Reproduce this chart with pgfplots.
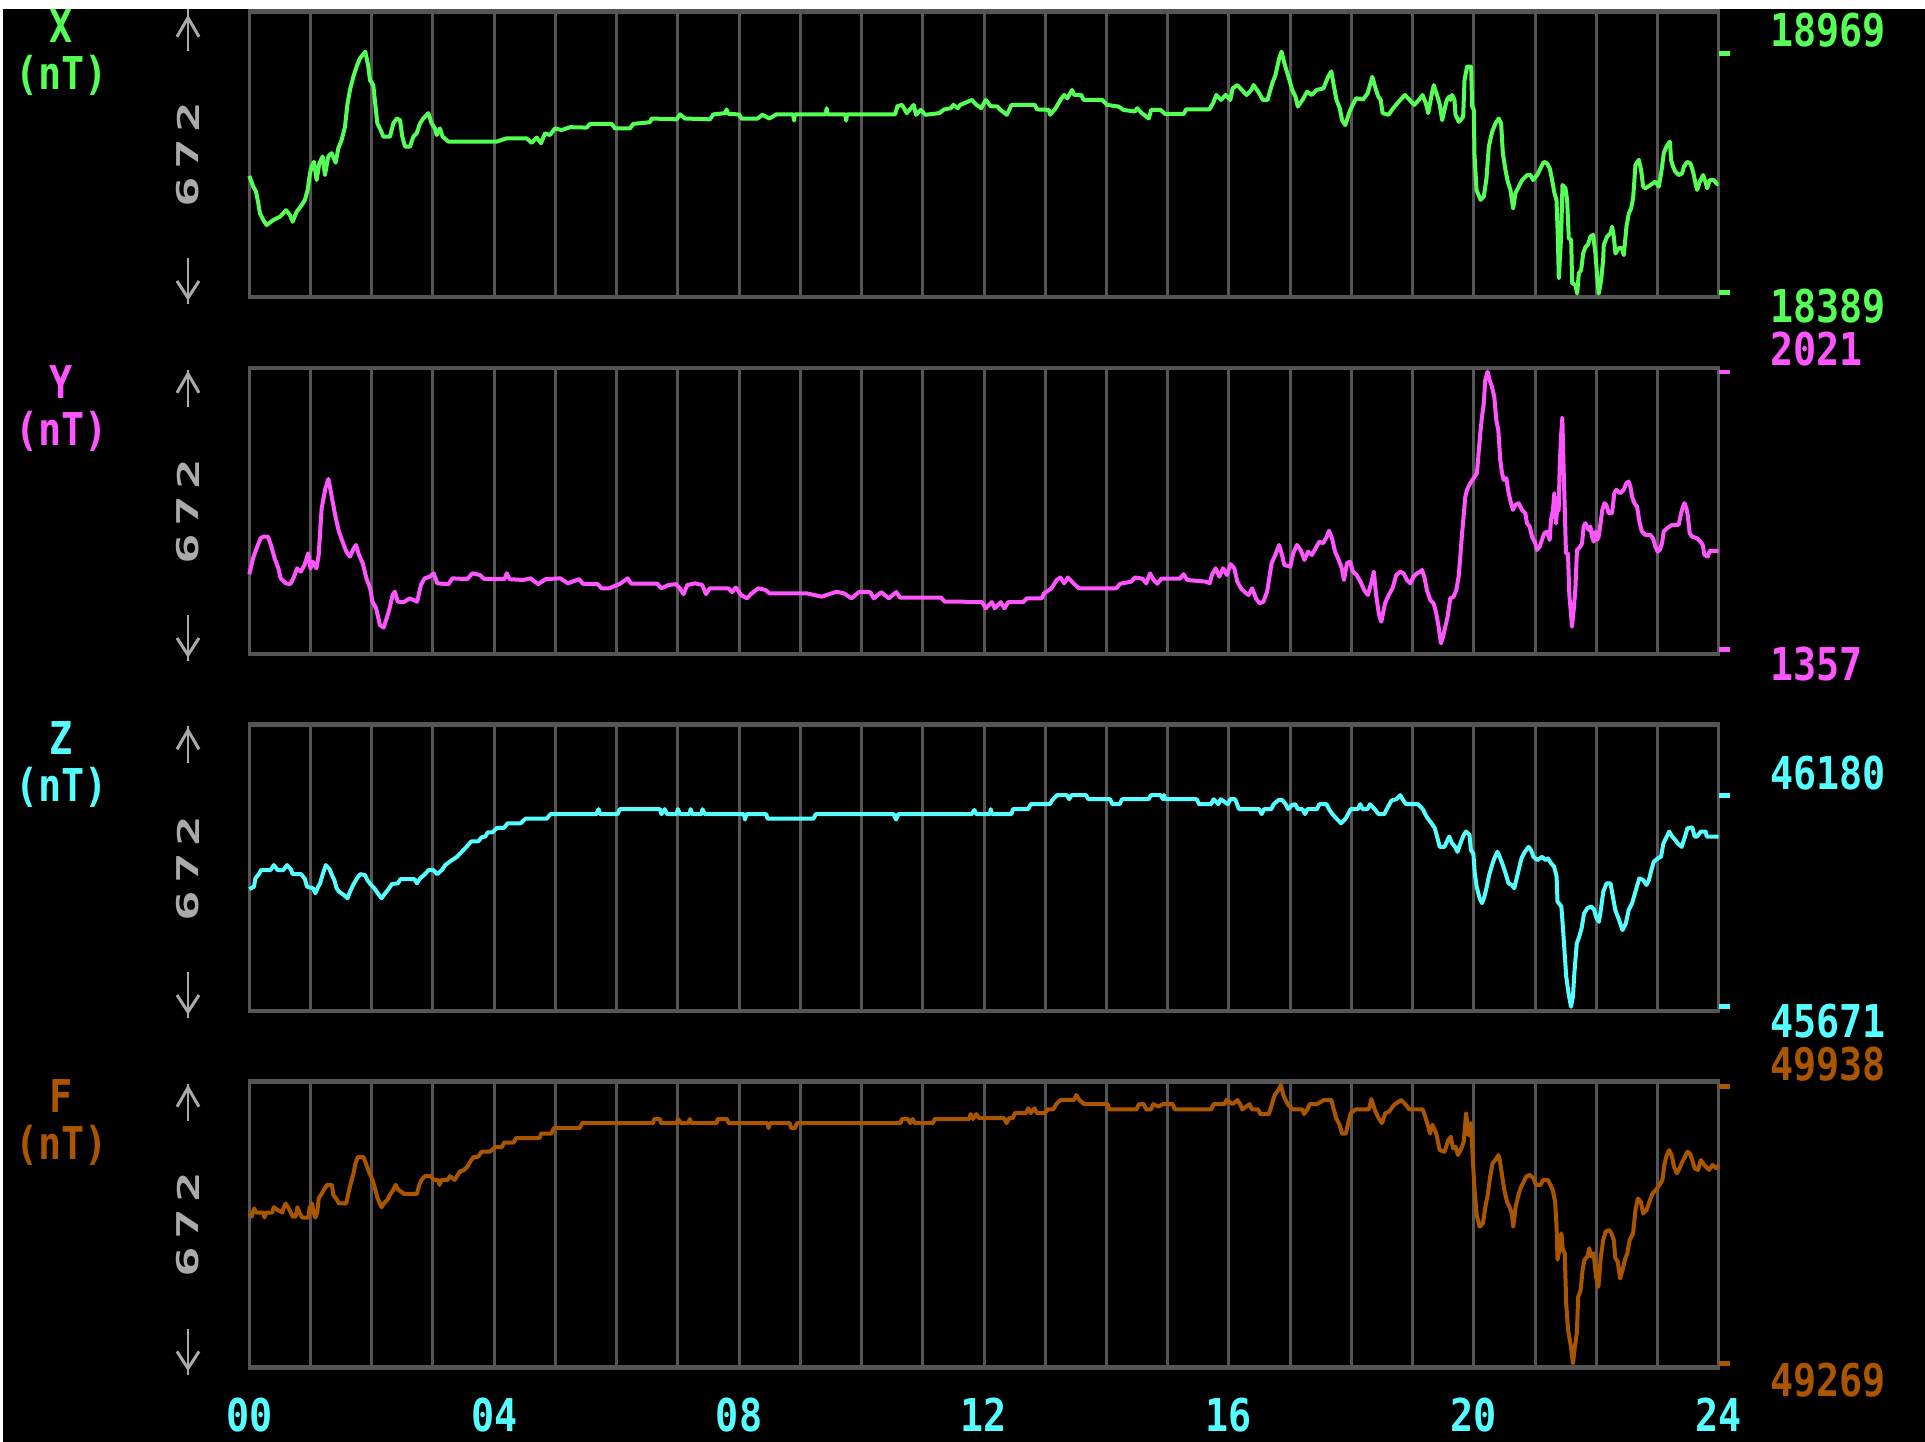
\documentclass[border=0pt]{standalone}
\usepackage{pgfplots}
\pgfplotsset{compat=1.18}
\usepackage{fontspec}
\newfontfamily\pix{DejaVu Sans Mono}[FakeStretch=0.85]
\newcommand\lbl{\pix\bfseries\fontsize{11.3pt}{12pt}\selectfont}
\newcommand\rot[1]{\scalebox{2.0}[1.0]{\pix\bfseries\fontsize{7.5pt}{8pt}\selectfont #1}}

\definecolor{egagreen}{RGB}{85,255,85}
\definecolor{egamagenta}{RGB}{255,85,255}
\definecolor{egacyan}{RGB}{85,255,255}
\definecolor{egabrown}{RGB}{170,85,0}
\definecolor{egadgray}{RGB}{85,85,85}
\definecolor{egalgray}{RGB}{170,170,170}

\pgfplotsset{
  magpanel/.style={
    anchor=north west, scale only axis, width=367.35pt,
    xmin=0, xmax=24, xtick={1,...,23}, xticklabels={}, ytick=\empty,
    major tick length=0pt, xtick style={draw=none},
    xmajorgrids, grid style={egadgray, line width=0.75pt},
    axis line style={draw=none}, clip=false,
    every axis plot/.append style={line width=1pt, line join=round, mark=none},
  },
}
% frame of one panel: thicker horizontal edges, thinner vertical ones
\newcommand\panelframe{%
  \draw[egadgray, line width=0.75pt] (rel axis cs:0,0) -- (rel axis cs:0,1)
       (rel axis cs:1,0) -- (rel axis cs:1,1);
  \draw[egadgray, line width=1.125pt, shorten <=-0.375pt, shorten >=-0.375pt]
       (rel axis cs:0,0) -- (rel axis cs:1,0);
  \draw[egadgray, line width=1.125pt, shorten <=-0.375pt, shorten >=-0.375pt]
       (rel axis cs:0,1) -- (rel axis cs:1,1);
}

\begin{document}
\begin{tikzpicture}[x=1pt,y=1pt]
\useasboundingbox (0,0) rectangle (481.25,-360.5);
\fill[black] (0,0) rectangle (481.25,-360.5);
\fill[white] (0,0) rectangle (481.25,-2.25);
\fill[white] (0,0) rectangle (0.75,-360.5);

% ---------------- X ----------------
\begin{axis}[magpanel, at={(62.325pt,-2.925pt)}, height=71.325pt, ymin=18378.6, ymax=19069.8]
\panelframe
\addplot[egagreen] coordinates {
(0,18672) (0.065,18646) (0.109,18634) (0.147,18606) (0.174,18581) (0.229,18565) (0.283,18553) (0.392,18565)
(0.501,18573) (0.599,18589) (0.664,18577) (0.708,18561) (0.773,18585) (0.855,18601) (0.909,18614) (0.953,18638)
(0.991,18678) (1.018,18694) (1.056,18706) (1.100,18662) (1.143,18702) (1.198,18719) (1.236,18674) (1.290,18719)
(1.345,18727) (1.410,18704) (1.454,18739) (1.508,18759) (1.563,18791) (1.601,18844) (1.644,18880) (1.699,18912)
(1.753,18937) (1.808,18957) (1.895,18973) (1.944,18937) (1.971,18904) (2.025,18892) (2.053,18852) (2.091,18799)
(2.134,18787) (2.189,18767) (2.298,18767) (2.352,18799) (2.407,18811) (2.461,18807) (2.499,18767) (2.543,18743)
(2.624,18743) (2.679,18767) (2.733,18775) (2.788,18799) (2.842,18811) (2.924,18824) (2.978,18799) (3.033,18787)
(3.060,18771) (3.114,18787) (3.158,18767) (3.251,18755) (3.441,18755) (3.659,18755) (4.040,18755) (4.203,18763)
(4.530,18763) (4.612,18752) (4.693,18765) (4.764,18751) (4.829,18775) (4.911,18771) (4.993,18787) (5.102,18783)
(5.238,18790) (5.510,18789) (5.565,18798) (5.918,18798) (5.973,18787) (6.218,18787) (6.272,18798) (6.545,18802)
(6.572,18811) (6.980,18809) (7.035,18821) (7.117,18811) (7.525,18809) (7.579,18821) (7.770,18824) (7.797,18833)
(7.824,18822) (8.0,18821)
(8.038,18811) (8.304,18811) (8.380,18820) (8.494,18811) (8.608,18821) (8.882,18821) (8.897,18806) (8.912,18821)
(9.415,18821) (9.430,18836) (9.445,18821) (9.734,18821) (9.749,18806) (9.764,18821) (10.548,18821) (10.586,18841)
(10.662,18844) (10.738,18824) (10.852,18844) (10.890,18820) (10.966,18832) (11.042,18820) (11.270,18824) (11.346,18833)
(11.460,18836) (11.498,18844) (11.574,18836) (11.612,18844) (11.802,18856) (11.878,18844) (11.954,18836) (12.030,18856)
(12.106,18841) (12.221,18840) (12.259,18833) (12.373,18820) (12.449,18844) (12.829,18844) (12.867,18833) (13.057,18832)
(13.080,18820) (13.171,18836) (13.247,18856) (13.308,18868) (13.361,18860) (13.437,18880) (13.475,18868) (13.589,18868)
(13.627,18856) (13.932,18856) (14.008,18844) (14.198,18840) (14.274,18832) (14.464,18828) (14.502,18836) (14.578,18824)
(14.692,18811) (14.730,18832) (14.882,18832) (14.958,18822) (15.262,18822) (15.300,18833) (15.681,18833) (15.741,18848)
(15.795,18868) (15.871,18856) (15.947,18868) (16.023,18856) (16.061,18884) (16.137,18892) (16.213,18880) (16.289,18868)
(16.365,18880) (16.403,18892) (16.479,18876) (16.555,18856) (16.631,18856) (16.707,18896) (16.760,18916) (16.821,18957)
(16.859,18973) (16.913,18941) (16.973,18912) (17.034,18880) (17.087,18864) (17.125,18840) (17.202,18856) (17.278,18876)
(17.354,18868) (17.430,18880) (17.544,18884) (17.620,18912) (17.673,18925) (17.711,18892) (17.757,18856) (17.810,18836)
(17.848,18807) (17.901,18795) (17.962,18824) (18.008,18840) (18.076,18860) (18.190,18857) (18.266,18872) (18.342,18912)
(18.403,18880) (18.441,18864) (18.479,18856) (18.510,18824) (18.608,18820) (18.684,18836) (18.798,18856) (18.875,18868)
(18.951,18856) (19.027,18844) (19.103,18856) (19.163,18868) (19.217,18848) (19.255,18824) (19.316,18872) (19.346,18892)
(19.407,18864) (19.445,18844) (19.483,18807) (19.521,18832) (19.559,18856) (19.597,18864)
(19.619,18856) (19.646,18868) (19.684,18856) (19.701,18820) (19.755,18803) (19.826,18815) (19.848,18904) (19.891,18937)
(19.956,18937) (19.973,18840) (20.000,18832) (20.011,18723) (20.044,18638) (20.109,18614) (20.163,18622) (20.207,18666)
(20.245,18743) (20.299,18779) (20.354,18799) (20.408,18811) (20.446,18799) (20.474,18727) (20.517,18686) (20.555,18658)
(20.599,18638) (20.642,18593) (20.680,18630) (20.735,18646) (20.789,18662) (20.871,18674) (20.925,18674) (20.969,18662)
(21.034,18674) (21.089,18690) (21.143,18706) (21.198,18702) (21.241,18690) (21.279,18662) (21.317,18630) (21.350,18614)
(21.372,18525) (21.388,18424) (21.426,18525) (21.448,18650) (21.497,18642) (21.524,18614) (21.551,18521) (21.590,18517)
(21.606,18412) (21.660,18408) (21.688,18387) (21.715,18436) (21.753,18444) (21.786,18484) (21.824,18500) (21.862,18505)
(21.905,18525) (21.949,18529) (21.987,18484) (22.014,18428) (22.041,18387) (22.080,18420) (22.112,18468) (22.123,18505)
(22.177,18525) (22.232,18533) (22.259,18549) (22.286,18525) (22.314,18484) (22.368,18497) (22.422,18497) (22.450,18480)
(22.493,18549) (22.531,18581) (22.569,18593) (22.602,18618) (22.640,18698) (22.695,18711) (22.733,18686) (22.765,18646)
(22.803,18642) (22.885,18650) (22.967,18658) (23.021,18646) (23.059,18678) (23.103,18727) (23.146,18743) (23.201,18755)
(23.223,18710) (23.255,18694) (23.293,18682) (23.348,18674) (23.402,18678) (23.430,18694) (23.484,18706) (23.538,18702)
(23.582,18682) (23.620,18654) (23.647,18638) (23.691,18658) (23.745,18674) (23.783,18658) (23.811,18642) (23.854,18662)
(23.919,18662) (23.974,18652) (24.0,18652)
};
\draw[egagreen, line width=1.125pt] (axis cs:24,18969) -- ++(2.75pt,0pt);
\draw[egagreen, line width=1.125pt] (axis cs:24,18389) -- ++(2.75pt,0pt);
\end{axis}

% ---------------- Y ----------------
\begin{axis}[magpanel, at={(62.325pt,-91.95pt)}, height=71.55pt, ymin=1345.7, ymax=2031.5]
\panelframe
\addplot[egamagenta] coordinates {
(0,1537) (0.061,1575) (0.110,1595) (0.183,1623) (0.232,1627) (0.305,1627) (0.353,1607) (0.414,1575)
(0.475,1551) (0.512,1527) (0.597,1515) (0.670,1513) (0.731,1531) (0.780,1551) (0.841,1543) (0.902,1559)
(0.963,1587) (0.999,1551) (1.036,1567) (1.097,1551) (1.133,1583) (1.182,1695) (1.243,1743) (1.292,1765)
(1.341,1727) (1.402,1679) (1.463,1639) (1.523,1615) (1.584,1591) (1.645,1579) (1.706,1599) (1.743,1607)
(1.792,1583) (1.853,1563) (1.913,1527) (1.974,1503) (2.011,1471) (2.072,1455) (2.133,1415) (2.194,1409)
(2.243,1431) (2.291,1455) (2.340,1487) (2.377,1495) (2.425,1471) (2.523,1470) (2.620,1479) (2.742,1471)
(2.803,1511) (2.864,1527) (2.949,1531) (3.010,1539) (3.071,1515) (3.254,1513) (3.315,1527) (3.559,1525)
(3.644,1539) (3.766,1535) (3.839,1525) (4.168,1525) (4.205,1539) (4.253,1525) (4.473,1523) (4.595,1527)
(4.717,1513) (4.839,1525) (5.082,1527) (5.204,1515) (5.387,1525) (5.448,1514) (5.692,1513) (5.753,1503)
(5.874,1503) (6.057,1514) (6.179,1527) (6.240,1514) (6.667,1514) (6.728,1503) (6.850,1511) (6.971,1513)
(7.032,1503) (7.093,1489) (7.154,1511) (7.276,1515) (7.398,1511) (7.459,1489) (7.520,1503) (7.824,1503)
(7.885,1494) (7.946,1505) (8.032,1487) (8.129,1479) (8.190,1489) (8.312,1503) (8.434,1499) (8.495,1491)
(9.104,1491) (9.348,1483) (9.592,1495) (9.714,1491) (9.835,1479) (9.957,1494) (10.140,1494) (10.201,1479)
(10.323,1494) (10.445,1479) (10.567,1494) (10.628,1481) (11.298,1481) (11.359,1471) (11.664,1471) (11.724,1470)
(11.968,1470) (12.029,1455) (12.127,1470) (12.176,1455) (12.273,1470) (12.334,1455) (12.395,1470) (12.639,1470)
(12.700,1479) (12.943,1479) (12.980,1491) (13.102,1503) (13.187,1523) (13.248,1529) (13.309,1515) (13.370,1529)
(13.467,1514) (13.553,1503) (14.162,1503) (14.223,1514) (14.406,1519) (14.467,1529) (14.589,1526) (14.650,1515)
(14.711,1539) (14.772,1523) (14.832,1514) (14.893,1526) (15.198,1526) (15.259,1537) (15.320,1523) (15.625,1519)
(15.686,1515) (15.722,1535) (15.783,1551) (15.844,1531) (15.905,1551) (15.966,1535) (16.027,1561) (16.088,1551)
(16.137,1519) (16.197,1503) (16.258,1494) (16.319,1487) (16.380,1503) (16.441,1479) (16.502,1467) (16.563,1471)
(16.624,1495) (16.697,1563) (16.758,1583) (16.819,1607) (16.868,1583) (16.904,1559) (17.002,1555) (17.050,1587)
(17.111,1607) (17.172,1595) (17.233,1571) (17.294,1591) (17.355,1583) (17.416,1599) (17.477,1615) (17.538,1611)
(17.599,1627) (17.635,1641) (17.684,1623) (17.733,1591) (17.782,1575) (17.843,1551) (17.879,1523) (17.928,1563)
(17.977,1567) (18.026,1543) (18.087,1535) (18.148,1519) (18.208,1499) (18.269,1487) (18.330,1519) (18.367,1543)
(18.404,1487) (18.452,1439) (18.489,1423) (18.550,1467) (18.611,1487) (18.672,1503) (18.733,1535)
(18.798,1543) (18.853,1539) (18.907,1523) (18.962,1515) (19.016,1531) (19.071,1539) (19.125,1543) (19.153,1547)
(19.191,1531) (19.234,1499) (19.289,1475) (19.343,1467) (19.387,1443) (19.425,1411) (19.463,1371) (19.496,1387)
(19.534,1411) (19.572,1435) (19.615,1479) (19.670,1483) (19.714,1499) (19.752,1531) (19.779,1579) (19.806,1631)
(19.833,1675) (19.861,1723) (19.888,1739) (19.942,1755) (19.997,1767) (20.051,1779) (20.078,1827) (20.106,1875)
(20.133,1914) (20.160,1942) (20.187,2002) (20.225,2022) (20.258,2002) (20.296,1986) (20.334,1962) (20.367,1906)
(20.400,1882) (20.432,1811) (20.460,1779) (20.487,1763) (20.530,1767) (20.569,1731) (20.607,1707) (20.639,1691)
(20.678,1703) (20.732,1707) (20.786,1691) (20.841,1683) (20.868,1659) (20.912,1651) (20.950,1627) (21.004,1611)
(21.032,1595) (21.075,1603) (21.113,1619) (21.151,1635) (21.195,1639) (21.239,1619) (21.260,1667) (21.293,1691)
(21.315,1731) (21.342,1659) (21.358,1687) (21.386,1691) (21.402,1791) (21.424,1867) (21.446,1912) (21.467,1787)
(21.489,1675) (21.505,1587) (21.538,1587) (21.560,1487) (21.587,1443) (21.603,1411) (21.631,1451) (21.658,1499)
(21.685,1595) (21.712,1599) (21.740,1603) (21.767,1611) (21.794,1651) (21.821,1659) (21.849,1651) (21.876,1643)
(21.903,1651) (21.930,1627) (21.958,1615) (21.985,1639) (22.012,1619) (22.039,1627) (22.066,1655) (22.099,1691)
(22.132,1707) (22.164,1703) (22.203,1683) (22.257,1683) (22.295,1731) (22.328,1739) (22.393,1731) (22.448,1739)
(22.491,1755) (22.529,1759) (22.557,1747) (22.584,1723) (22.622,1707) (22.666,1699) (22.709,1659) (22.747,1639)
(22.802,1631) (22.883,1631) (22.927,1623) (22.965,1603) (23.003,1591) (23.036,1595) (23.074,1611) (23.101,1639)
(23.155,1647) (23.237,1655) (23.346,1655) (23.385,1683) (23.417,1699) (23.439,1707) (23.472,1695) (23.493,1679)
(23.526,1635) (23.564,1627) (23.646,1623) (23.700,1615) (23.739,1607) (23.766,1583) (23.820,1579) (23.853,1593)
(24.0,1593)
};
\draw[egamagenta, line width=1.125pt] (axis cs:24,2021) -- ++(2.75pt,0pt);
\draw[egamagenta, line width=1.125pt] (axis cs:24,1357) -- ++(2.75pt,0pt);
\end{axis}

% ---------------- Z ----------------
\begin{axis}[magpanel, at={(62.325pt,-181.075pt)}, height=71.675pt, ymin=45659.7, ymax=46351.9]
\panelframe
\addplot[egacyan] coordinates {
(0,45954) (0.077,45960) (0.100,45980) (0.154,45990) (0.193,46000) (0.347,46000) (0.401,46012) (0.463,46000)
(0.555,46000) (0.617,46012) (0.678,46002) (0.709,45990) (0.848,45990) (0.910,45978) (0.941,45960) (1.041,45956)
(1.079,45944) (1.126,45960) (1.157,45968) (1.195,45988) (1.249,46012) (1.311,46002) (1.349,45988) (1.388,45976)
(1.426,45956) (1.465,45948) (1.542,45940) (1.604,45932) (1.658,45952) (1.696,45964) (1.758,45980) (1.812,45990)
(1.889,45988) (1.928,45976) (1.989,45964) (2.043,45956) (2.097,45944) (2.159,45932) (2.220,45944) (2.274,45954)
(2.328,45966) (2.429,45968) (2.467,45978) (2.699,45978) (2.737,45968) (2.791,45980) (2.853,45988) (2.930,46000)
(3.007,46000) (3.069,45990) (3.146,46000) (3.200,46012) (3.300,46023) (3.392,46032) (3.470,46044) (3.547,46056)
(3.624,46069) (3.739,46069) (3.793,46079) (3.855,46081) (3.894,46091) (3.971,46091) (4.048,46102) (4.163,46102)
(4.217,46113) (4.433,46113) (4.510,46124) (4.857,46124) (4.919,46135) (5.667,46135) (5.705,46147) (5.729,46135)
(6.014,46135) (6.052,46147) (6.708,46147) (6.731,46135) (6.785,46147) (6.823,46135) (6.978,46135) (7.001,46147)
(7.032,46135) (7.186,46135) (7.209,46147) (7.232,46135) (7.386,46135) (7.402,46147) (7.440,46135) (8.080,46135)
(8.096,46122) (8.119,46135) (8.443,46135) (8.466,46124) (9.214,46124) (9.252,46135) (10.524,46135) (10.563,46122)
(10.601,46135) (11.796,46135)
(11.843,46145) (11.874,46135) (12.094,46135) (12.110,46147) (12.134,46135) (12.448,46135) (12.472,46147) (12.723,46147)
(12.762,46159) (13.077,46159) (13.116,46169) (13.194,46181) (13.352,46181) (13.391,46171) (13.430,46181) (13.666,46181)
(13.705,46171) (14.059,46171) (14.098,46159) (14.216,46159) (14.255,46171) (14.688,46171) (14.727,46181) (14.884,46181)
(14.923,46171) (14.939,46181) (14.963,46171) (15.473,46171) (15.513,46159) (15.709,46159) (15.749,46171) (15.827,46159)
(15.866,46171) (15.984,46159) (16.024,46171) (16.102,46171) (16.165,46147) (16.495,46147) (16.535,46135) (16.574,46147)
(16.692,46147) (16.731,46159) (16.809,46169) (16.872,46169) (16.927,46159) (16.967,46147) (17.029,46157) (17.084,46159)
(17.124,46147) (17.202,46147) (17.242,46135) (17.281,46147) (17.438,46147) (17.477,46159) (17.595,46159) (17.635,46147)
(17.690,46135) (17.752,46125) (17.831,46113) (17.910,46125) (17.988,46147) (18.106,46147) (18.145,46159) (18.185,46147)
(18.263,46147) (18.303,46159) (18.381,46147) (18.444,46135) (18.538,46135) (18.578,46147) (18.656,46168) (18.735,46171)
(18.798,46181) (18.837,46171) (18.892,46159) (19.088,46159) (19.167,46147) (19.206,46135) (19.246,46125) (19.308,46113)
(19.363,46101) (19.403,46079) (19.442,46056) (19.521,46056) (19.560,46069) (19.599,46081) (19.639,46066) (19.694,46056)
(19.733,46044) (19.780,46064) (19.835,46085) (19.874,46093) (19.929,46085) (19.953,46048) (19.992,46040) (20.016,45992)
(20.047,45960) (20.094,45932) (20.134,45920) (20.173,45936) (20.212,45960) (20.251,45988) (20.306,46016) (20.346,46032)
(20.385,46044) (20.424,46032) (20.464,46016) (20.519,45992) (20.566,45968) (20.621,45964) (20.660,45956) (20.700,45980)
(20.739,46004) (20.778,46028) (20.833,46044) (20.896,46056) (20.935,46048) (20.974,46032) (21.037,46024) (21.116,46032)
(21.171,46024) (21.210,46028) (21.265,46016) (21.312,46008) (21.352,45984) (21.367,45924) (21.430,45912) (21.462,45847)
(21.509,45743) (21.548,45702) (21.587,45670) (21.619,45694) (21.642,45751) (21.682,45823) (21.721,45839) (21.760,45859)
(21.800,45895) (21.855,45908) (21.918,45912) (21.965,45904) (21.996,45887) (22.043,45875) (22.075,45904) (22.114,45948)
(22.169,45968) (22.232,45968) (22.271,45936) (22.310,45904) (22.373,45879) (22.428,45855) (22.483,45871) (22.530,45904)
(22.585,45920) (22.640,45948) (22.703,45980) (22.766,45976) (22.821,45964) (22.860,45976) (22.900,46000) (22.939,46020)
(23.002,46028) (23.057,46032) (23.096,46064) (23.151,46081) (23.191,46093) (23.238,46081) (23.293,46072) (23.332,46064)
(23.395,46056) (23.450,46081) (23.489,46101) (23.568,46103) (23.607,46081) (23.646,46081) (23.709,46093) (23.788,46093)
(23.804,46081) (24.0,46081)
};
\draw[egacyan, line width=1.125pt] (axis cs:24,46180) -- ++(2.75pt,0pt);
\draw[egacyan, line width=1.125pt] (axis cs:24,45671) -- ++(2.75pt,0pt);
\end{axis}

% ---------------- F ----------------
\begin{axis}[magpanel, at={(62.325pt,-270.425pt)}, height=71.45pt, ymin=49258.9, ymax=49949.1]
\panelframe
\addplot[egabrown] coordinates {
(0,49631) (0.039,49623) (0.077,49643) (0.116,49633) (0.231,49633) (0.247,49621) (0.270,49633) (0.370,49633)
(0.401,49646) (0.463,49639) (0.540,49633) (0.563,49646) (0.594,49655) (0.632,49646) (0.678,49633) (0.709,49623)
(0.756,49623) (0.786,49646) (0.817,49633) (0.864,49621) (0.964,49621) (0.987,49646) (1.025,49655) (1.049,49633)
(1.079,49621) (1.110,49633) (1.133,49667) (1.172,49676) (1.218,49688) (1.272,49700) (1.349,49700) (1.372,49676)
(1.426,49665) (1.465,49655) (1.581,49655) (1.619,49680) (1.658,49704) (1.696,49724) (1.735,49752) (1.773,49767)
(1.866,49767) (1.904,49752) (1.943,49736) (1.989,49720) (2.028,49704) (2.066,49684) (2.097,49667) (2.159,49646)
(2.197,49655) (2.251,49663) (2.298,49676) (2.352,49688) (2.390,49700) (2.429,49689) (2.529,49678) (2.737,49678)
(2.776,49700) (2.814,49712) (2.868,49721) (2.968,49721) (3.007,49712) (3.084,49712) (3.107,49700) (3.138,49712)
(3.238,49712) (3.277,49721) (3.354,49712) (3.392,49721) (3.439,49732) (3.508,49736) (3.562,49744) (3.608,49756)
(3.662,49767) (3.739,49768) (3.793,49780) (3.932,49780) (4.009,49791) (4.125,49791) (4.163,49802) (4.318,49802)
(4.356,49813) (4.742,49813) (4.765,49824) (4.934,49824) (4.973,49837) (5.397,49837) (5.436,49849) (6.592,49849)
(6.615,49859) (6.708,49859) (6.723,49849) (6.978,49849) (7.001,49859) (7.055,49849) (7.170,49849) (7.194,49859)
(7.224,49849) (7.633,49849) (7.648,49859) (7.803,49859) (7.826,49849) (8.466,49849) (8.481,49837) (8.504,49849)
(8.828,49849) (8.851,49837) (8.913,49837) (8.944,49849) (10.640,49849) (10.655,49859) (10.756,49859) (10.794,49849)
(10.833,49859) (10.871,49849) (11.164,49849) (11.195,49859) (11.758,49859) (11.781,49871) (11.820,49859) (11.874,49871)
(11.921,49861) (12.330,49861) (12.369,49849) (12.409,49861) (12.472,49861) (12.503,49873) (12.684,49873) (12.723,49885)
(12.762,49873) (12.825,49885) (12.864,49873) (12.998,49873) (13.037,49882) (13.132,49882) (13.179,49895) (13.250,49905)
(13.470,49905) (13.509,49917) (13.556,49905) (13.635,49895) (14.020,49895) (14.043,49882) (14.491,49882) (14.530,49895)
(14.609,49895) (14.648,49882) (14.727,49882) (14.766,49895) (14.845,49889) (14.923,49895) (15.081,49895) (15.120,49882)
(15.709,49882) (15.749,49895) (15.929,49895) (15.961,49905) (16.063,49895) (16.141,49905) (16.181,49895) (16.220,49882)
(16.338,49895) (16.377,49882) (16.479,49882) (16.511,49871) (16.652,49871) (16.692,49889) (16.747,49917) (16.809,49929)
(16.849,49941) (16.888,49917) (16.927,49905) (16.967,49893) (17.045,49882) (17.202,49882) (17.226,49871) (17.281,49882)
(17.320,49895) (17.438,49895) (17.556,49905) (17.674,49905) (17.713,49882) (17.752,49861) (17.807,49845) (17.847,49824)
(17.910,49824) (17.949,49849) (17.988,49873) (18.067,49882) (18.287,49882) (18.326,49907) (18.381,49882) (18.444,49861)
(18.499,49849) (18.554,49873) (18.617,49877) (18.695,49893) (18.813,49905) (18.892,49893) (18.947,49882) (19.167,49882)
(19.206,49865) (19.246,49845) (19.285,49824) (19.324,49845) (19.387,49824) (19.442,49784) (19.521,49780) (19.584,49808)
(19.623,49816) (19.662,49788) (19.701,49792) (19.741,49772) (19.796,49788) (19.835,49804) (19.874,49873) (19.914,49820)
(19.953,49849) (19.976,49784) (20.008,49696) (20.047,49627) (20.094,49599) (20.149,49607) (20.189,49647) (20.228,49676)
(20.267,49720) (20.306,49752) (20.361,49762) (20.401,49772) (20.424,49760) (20.464,49720) (20.503,49684) (20.542,49659)
(20.582,49647) (20.621,49631) (20.644,49599) (20.684,49647) (20.723,49672) (20.762,49692) (20.817,49708) (20.857,49720)
(20.912,49724) (20.975,49716) (21.014,49700) (21.092,49700) (21.132,49712) (21.210,49712) (21.250,49700) (21.289,49688)
(21.328,49659) (21.352,49599) (21.367,49519) (21.399,49543) (21.430,49583) (21.454,49543) (21.485,49535) (21.509,49414)
(21.540,49349) (21.587,49309) (21.619,49269) (21.650,49309) (21.682,49341) (21.705,49430) (21.745,49446) (21.776,49494)
(21.807,49519) (21.855,49527) (21.886,49547) (21.918,49527) (21.957,49535) (21.996,49478) (22.035,49454) (22.075,49527)
(22.114,49567) (22.153,49587) (22.208,49591) (22.248,49583) (22.287,49567) (22.310,49523) (22.350,49515) (22.389,49474)
(22.428,49494) (22.468,49519) (22.507,49535) (22.546,49567) (22.601,49583) (22.640,49639) (22.680,49667) (22.727,49659)
(22.766,49631) (22.821,49639) (22.876,49663) (22.923,49680) (22.978,49688) (23.033,49700) (23.081,49712) (23.112,49748)
(23.151,49772) (23.191,49784) (23.238,49768) (23.269,49744) (23.316,49728) (23.348,49736) (23.395,49752) (23.450,49768)
(23.489,49780) (23.528,49776) (23.568,49760) (23.607,49740) (23.662,49736) (23.709,49760) (23.764,49748) (23.843,49736)
(23.898,49748) (23.961,49740) (24.0,49748)
};
\draw[egabrown, line width=1.125pt] (axis cs:24,49938) -- ++(2.75pt,0pt);
\draw[egabrown, line width=1.125pt] (axis cs:24,49269) -- ++(2.75pt,0pt);
\end{axis}

% ---------------- labels ----------------
\begin{scope}[every node/.style={inner sep=0pt, outer sep=0pt}]
% component names
\node[anchor=base, text=egagreen]   at (15.375,-10.55)  {\lbl X};
\node[anchor=base, text=egagreen]   at (15.375,-22.3)   {\lbl (nT)};
\node[anchor=base, text=egamagenta] at (15.375,-99.575) {\lbl Y};
\node[anchor=base, text=egamagenta] at (15.375,-111.325){\lbl (nT)};
\node[anchor=base, text=egacyan]    at (15.375,-188.7)  {\lbl Z};
\node[anchor=base, text=egacyan]    at (15.375,-200.45) {\lbl (nT)};
\node[anchor=base, text=egabrown]   at (15.375,-278.05) {\lbl F};
\node[anchor=base, text=egabrown]   at (15.375,-289.8)  {\lbl (nT)};
% range limits on the right
\node[anchor=base west, text=egagreen]   at (442.5,-11.75)  {\lbl 18969};
\node[anchor=base west, text=egagreen]   at (442.5,-80.75)  {\lbl 18389};
\node[anchor=base west, text=egamagenta] at (442.5,-91.5)   {\lbl 2021};
\node[anchor=base west, text=egamagenta] at (442.5,-170.25) {\lbl 1357};
\node[anchor=base west, text=egacyan]    at (442.5,-197.25) {\lbl 46180};
\node[anchor=base west, text=egacyan]    at (442.5,-259.25) {\lbl 45671};
\node[anchor=base west, text=egabrown]   at (442.5,-270)    {\lbl 49938};
\node[anchor=base west, text=egabrown]   at (442.5,-349)    {\lbl 49269};
% hours
\foreach \h/\t in {0/00,4/04,8/08,12/12,16/16,20/20,24/24}
  \node[anchor=base, text=egacyan] at ({62.325+15.305*\h},-357.75) {\lbl \t};
% scale arrows and span of each panel (top, bottom, arrow start, in px)
\foreach \T/\B/\S in {11.7/297/-3, 367.8/654/2, 724.3/1011/2, 1081.7/1367.5/2}{
  \draw[egalgray, line width=0.6pt] (47,{-(\T+\S)/4}) -- (47,{-(\T+39)/4});
  \draw[egalgray, line width=0.75pt] (44.25,{-(\T+25)/4}) -- (47,{-(\T+6)/4}) -- (49.75,{-(\T+25)/4});
  \draw[egalgray, line width=0.6pt] (47,{-(\B-39)/4}) -- (47,{-(\B+7)/4});
  \draw[egalgray, line width=0.75pt] (44.25,{-(\B-16)/4}) -- (47,{-(\B+1)/4}) -- (49.75,{-(\B-16)/4});
  \node[rotate=90, text=egalgray] at (47,{-((\T+\B)/2-37)/4}) {\rot{2}};
  \node[rotate=90, text=egalgray] at (47,{-((\T+\B)/2)/4})    {\rot{7}};
  \node[rotate=90, text=egalgray] at (47,{-((\T+\B)/2+38)/4}) {\rot{6}};
}
\end{scope}
\end{tikzpicture}
\end{document}
